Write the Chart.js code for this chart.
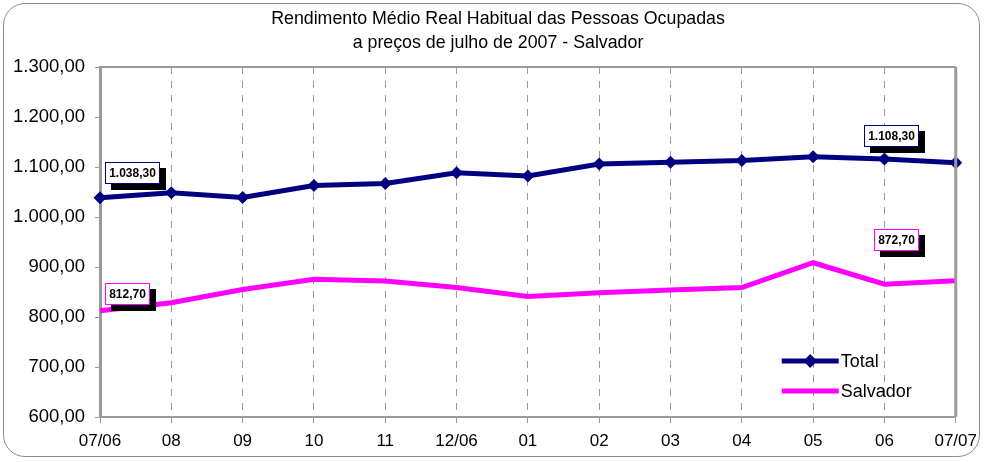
<!DOCTYPE html>
<html>
<head>
<meta charset="utf-8">
<script src="https://cdn.jsdelivr.net/npm/chart.js@4.4.1/dist/chart.umd.min.js"></script>
<style>
  html, body { margin: 0; padding: 0; background: #fff; }
  #wrap { position: relative; width: 985px; height: 462px; }
  #frame { position: absolute; left: 3px; top: 3px; width: 977px; height: 454px;
           border: 1px solid #8c8c8c; border-radius: 22px; box-sizing: border-box; pointer-events: none; }
  canvas { position: absolute; left: 0; top: 0; }
</style>
</head>
<body>
<div id="wrap">
  <canvas id="c" width="985" height="462"></canvas>
  <div id="frame"></div>
</div>
<script>
const titleLines = ['Rendimento Médio Real Habitual das Pessoas Ocupadas', 'a preços de julho de 2007 - Salvador'];
const categories = ['07/06','08','09','10','11','12/06','01','02','03','04','05','06','07/07'];
const totalValues = [1038.3, 1048.5, 1039, 1063, 1067, 1088.5, 1082, 1106, 1109.5, 1113, 1120.5, 1116, 1108.3];
const salvadorValues = [812.7, 828.5, 855, 875.5, 872, 859, 841, 848.5, 854, 859, 908.5, 865.5, 872.7];
const yTicks = [600, 700, 800, 900, 1000, 1100, 1200, 1300];
const seriesNames = ['Total', 'Salvador'];

function fmt(v) {
  const parts = v.toFixed(2).split('.');
  const intPart = parts[0].replace(/\B(?=(\d{3})+(?!\d))/g, '.');
  return intPart + ',' + parts[1];
}

const NAVY = '#000080';
const MAGENTA = '#ff00ff';
const GREY = '#9a9a9a';
const FONT = '"Liberation Sans", Arial, sans-serif';

// labelled points: dataset, index, box offset relative to point
const labelSpecs = [
  { ds: 0, idx: 0, dx: 5, dy: -36, color: NAVY },
  { ds: 0, idx: 12, dx: -92, dy: -38, color: NAVY },
  { ds: 1, idx: 0, dx: 5, dy: -28, color: MAGENTA },
  { ds: 1, idx: 12, dx: -82, dy: -52, color: MAGENTA }
];

const decor = {
  id: 'decor',
  beforeDraw(chart) {
    const ctx = chart.ctx;
    ctx.save();
    ctx.fillStyle = '#000';
    ctx.font = '17.8px ' + FONT;
    ctx.textAlign = 'center';
    ctx.textBaseline = 'middle';
    const cx = 498;
    ctx.fillText(titleLines[0], cx, 19);
    ctx.fillText(titleLines[1], cx, 43);
    ctx.restore();
  },
  afterDraw(chart) {
    const ctx = chart.ctx;
    const a = chart.chartArea;
    ctx.save();
    // top and right frame lines
    ctx.strokeStyle = GREY;
    ctx.lineWidth = 2;
    ctx.beginPath();
    ctx.moveTo(a.left, a.top);
    ctx.lineTo(a.right, a.top);
    ctx.stroke();
    ctx.lineWidth = 3;
    ctx.beginPath();
    ctx.moveTo(a.right, a.top);
    ctx.lineTo(a.right, a.bottom);
    ctx.stroke();

    // data labels
    ctx.font = 'bold 12px ' + FONT;
    ctx.textAlign = 'center';
    ctx.textBaseline = 'middle';
    labelSpecs.forEach(s => {
      const meta = chart.getDatasetMeta(s.ds);
      const pt = meta.data[s.idx];
      const val = chart.data.datasets[s.ds].data[s.idx];
      const txt = fmt(val);
      const w = Math.round(ctx.measureText(txt).width) + 8;
      const h = 22;
      const x = Math.round(pt.x + s.dx);
      const y = Math.round(pt.y + s.dy);
      ctx.fillStyle = '#000';
      ctx.fillRect(x + 6, y + 6, w, h);
      ctx.fillStyle = '#fff';
      ctx.fillRect(x, y, w, h);
      ctx.strokeStyle = s.color;
      ctx.lineWidth = 1;
      ctx.strokeRect(x + 0.5, y + 0.5, w - 1, h - 1);
      ctx.fillStyle = '#000';
      ctx.fillText(txt, x + w / 2, y + h / 2 + 1);
    });

    // legend
    const lx0 = a.right - 174, lx1 = a.right - 117;
    const rows = [{ y: a.bottom - 56, color: NAVY, marker: true }, { y: a.bottom - 26, color: MAGENTA, marker: false }];
    rows.forEach((r, i) => {
      ctx.strokeStyle = r.color;
      ctx.lineWidth = 5;
      ctx.beginPath();
      ctx.moveTo(lx0, r.y);
      ctx.lineTo(lx1, r.y);
      ctx.stroke();
      if (r.marker) {
        const mx = (lx0 + lx1) / 2;
        ctx.fillStyle = r.color;
        ctx.beginPath();
        ctx.moveTo(mx, r.y - 7);
        ctx.lineTo(mx + 7, r.y);
        ctx.lineTo(mx, r.y + 7);
        ctx.lineTo(mx - 7, r.y);
        ctx.closePath();
        ctx.fill();
      }
      ctx.fillStyle = '#000';
      ctx.font = '18px ' + FONT;
      ctx.textAlign = 'left';
      ctx.textBaseline = 'middle';
      ctx.fillText(seriesNames[i], lx1 + 2, r.y + 1);
    });
    ctx.restore();
  }
};

new Chart(document.getElementById('c'), {
  type: 'line',
  plugins: [decor],
  data: {
    labels: categories,
    datasets: [
      {
        label: seriesNames[0],
        data: totalValues,
        borderColor: NAVY,
        backgroundColor: NAVY,
        borderWidth: 5,
        pointStyle: 'rectRot',
        pointRadius: 6.5,
        pointHoverRadius: 6.5,
        pointBorderWidth: 0,
        tension: 0,
        clip: false
      },
      {
        label: seriesNames[1],
        data: salvadorValues,
        borderColor: MAGENTA,
        backgroundColor: MAGENTA,
        borderWidth: 5,
        pointRadius: 0,
        pointHoverRadius: 0,
        tension: 0,
        clip: false
      }
    ]
  },
  options: {
    responsive: false,
    animation: false,
    events: [],
    layout: { padding: { top: 67, right: 28, left: 0, bottom: 0 } },
    plugins: { legend: { display: false }, title: { display: false }, tooltip: { enabled: false } },
    scales: {
      x: {
        offset: false,
        afterFit(scale) { scale.height = 45; },
        grid: {
          display: true,
          drawOnChartArea: true,
          color: GREY,
          lineWidth: 1,
          tickLength: 6,
          tickColor: GREY,
          tickWidth: 1
        },
        border: { display: true, color: GREY, width: 2, dash: [7, 7] },
        ticks: {
          color: '#000',
          font: { family: FONT, size: 17 },
          padding: 8,
          maxRotation: 0,
          autoSkip: false
        }
      },
      y: {
        min: 600,
        max: 1300,
        afterFit(scale) { scale.width = 100; },
        afterBuildTicks(scale) { scale.ticks = yTicks.map(v => ({ value: v })); },
        grid: {
          display: true,
          drawOnChartArea: false,
          tickLength: 5,
          tickColor: GREY,
          tickWidth: 1
        },
        border: { display: true, color: GREY, width: 3 },
        ticks: {
          color: '#000',
          font: { family: FONT, size: 18.5 },
          padding: 10,
          callback: v => fmt(v)
        }
      }
    }
  }
});
</script>
</body>
</html>
